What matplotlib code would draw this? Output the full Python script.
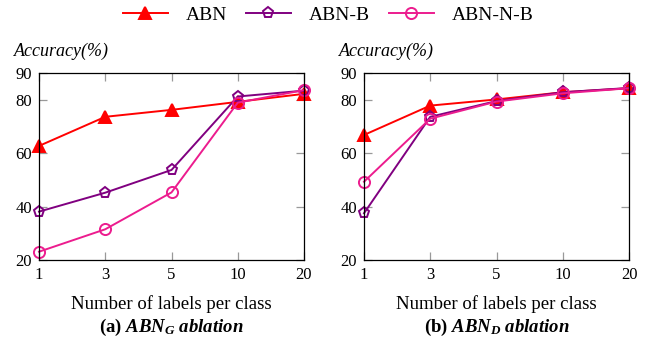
import matplotlib
matplotlib.use("Agg")
import matplotlib.pyplot as plt

plt.rcParams['font.family'] = ['Liberation Serif', 'DejaVu Serif']
plt.rcParams['mathtext.fontset'] = 'custom'
plt.rcParams['mathtext.it'] = 'Liberation Serif:italic:bold'
plt.rcParams['mathtext.rm'] = 'Liberation Serif:bold'
plt.rcParams['mathtext.bf'] = 'Liberation Serif:bold'

x_labels = ["1", "3", "5", "10", "20"]
series = ["ABN", "ABN-B", "ABN-N-B"]

g_abn = [62.7, 73.6, 76.2, 79.2, 82.2]
g_abn_b = [38.1, 45.2, 53.7, 81.2, 83.4]
g_abn_nb = [23.1, 31.5, 45.3, 78.9, 83.6]

d_abn = [66.8, 77.8, 80.1, 82.8, 84.3]
d_abn_b = [37.5, 73.6, 79.5, 82.8, 84.4]
d_abn_nb = [49.3, 72.9, 79.3, 82.4, 84.3]

y_ticks = [20, 40, 60, 80, 90]
captions = [r"(a) $ABN_G\ ablation$", r"(b) $ABN_D\ ablation$"]

colors = ['#FF0000', '#800080', '#EC1C8E']
markers = ['^', 'p', 'o']

fig = plt.figure(figsize=(6.57, 3.44), dpi=100)
axes = [fig.add_axes([39/657, 84/344, 265/657, 187/344]),
        fig.add_axes([364/657, 84/344, 265/657, 187/344])]

data = [[g_abn, g_abn_b, g_abn_nb], [d_abn, d_abn_b, d_abn_nb]]
xs = list(range(len(x_labels)))
handles = []
for ax, dset, cap in zip(axes, data, captions):
    for i, (vals, name) in enumerate(zip(dset, series)):
        filled = i == 0
        h, = ax.plot(xs, vals, color=colors[i], lw=1.4, marker=markers[i],
                     markersize=9 if i == 0 else 8,
                     markerfacecolor=colors[i] if filled else 'none',
                     markeredgecolor=colors[i], markeredgewidth=1.4,
                     label=name, clip_on=False, zorder=3)
        if ax is axes[0]:
            handles.append(h)
    ax.set_xlim(0, len(x_labels) - 1)
    ax.set_ylim(20, 90)
    ax.set_xticks(xs)
    ax.set_xticklabels(x_labels)
    ax.set_yticks(y_ticks)
    ax.tick_params(direction='in', length=6, width=0.9, color='#999999',
                   top=True, right=True, labelsize=12, pad=5)
    for s in ax.spines.values():
        s.set_linewidth(0.9)
        s.set_zorder(4)
    ax.set_xlabel("Number of labels per class", fontsize=13.5, labelpad=9)
    ax.text(-0.095, 1.07, "Accuracy(%)", transform=ax.transAxes,
            fontsize=13, style='italic', ha='left', va='bottom')
    pos = ax.get_position()
    fig.text(pos.x0 + pos.width / 2, 1 - 327/344, cap, fontsize=13.5,
             fontweight='bold', ha='center', va='center')

fig.legend(handles=handles, labels=series, loc='center',
           bbox_to_anchor=(0.5, 1 - 15/344), ncol=3, frameon=False,
           fontsize=14, handlelength=2.3, columnspacing=0.95, handletextpad=0.95)

fig.savefig("out.png", dpi=100)
